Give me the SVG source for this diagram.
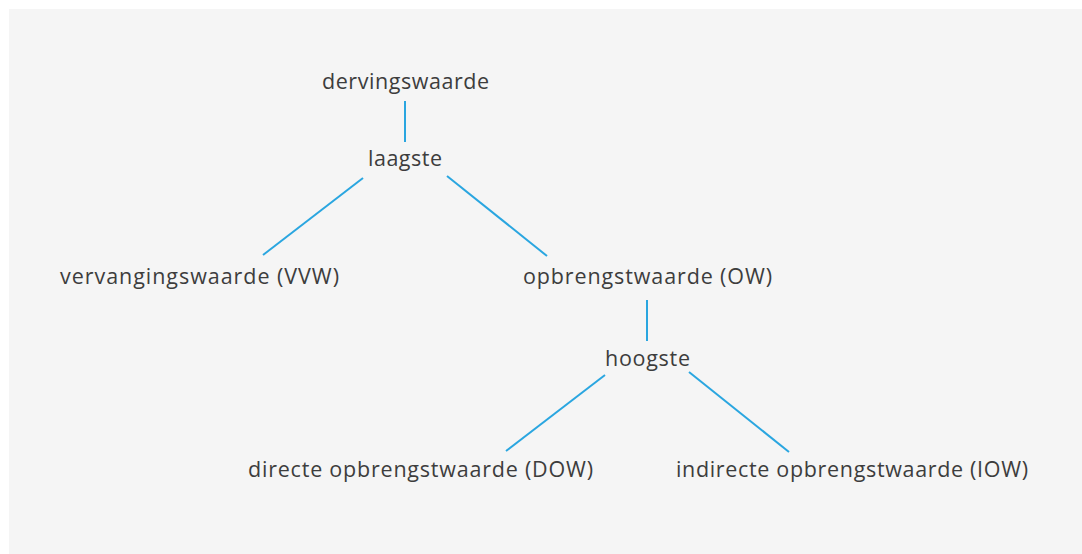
<svg xmlns="http://www.w3.org/2000/svg" width="1082" height="554" viewBox="0 0 1082 554">
<style>
.lbl{font-family:"Open Sans","Noto Sans",sans-serif;font-size:21.5px;fill:#3d3d3d;text-anchor:middle}
.con{stroke:#2aa6e0;stroke-width:2;fill:none}
</style>
<rect x="0" y="0" width="1082" height="554" fill="#ffffff"/>
<rect x="9" y="9" width="1073" height="545" fill="#f5f5f5"/>
<g id="connectors">
<line class="con" x1="405" y1="101" x2="405" y2="142"/>
<line class="con" x1="363" y1="178" x2="263" y2="255"/>
<line class="con" x1="447" y1="176" x2="547" y2="256"/>
<line class="con" x1="647" y1="300" x2="647" y2="341"/>
<line class="con" x1="605" y1="375" x2="506" y2="451"/>
<line class="con" x1="689" y1="372" x2="789" y2="452"/>
</g>
<g id="n-derving"><text class="lbl" x="405.5" y="89" textLength="167" lengthAdjust="spacing">dervingswaarde</text></g>
<g id="n-laagste"><text class="lbl" x="405" y="166" textLength="74" lengthAdjust="spacing">laagste</text></g>
<g id="n-vvw"><text class="lbl" x="199.5" y="284" textLength="279" lengthAdjust="spacing">vervangingswaarde (VVW)</text></g>
<g id="n-ow"><text class="lbl" x="647.5" y="284" textLength="249" lengthAdjust="spacing">opbrengstwaarde (OW)</text></g>
<g id="n-hoogste"><text class="lbl" x="647.5" y="366" textLength="85" lengthAdjust="spacing">hoogste</text></g>
<g id="n-dow"><text class="lbl" x="420.5" y="477" textLength="345" lengthAdjust="spacing">directe opbrengstwaarde (DOW)</text></g>
<g id="n-iow"><text class="lbl" x="852" y="477" textLength="352" lengthAdjust="spacing">indirecte opbrengstwaarde (IOW)</text></g>
</svg>
